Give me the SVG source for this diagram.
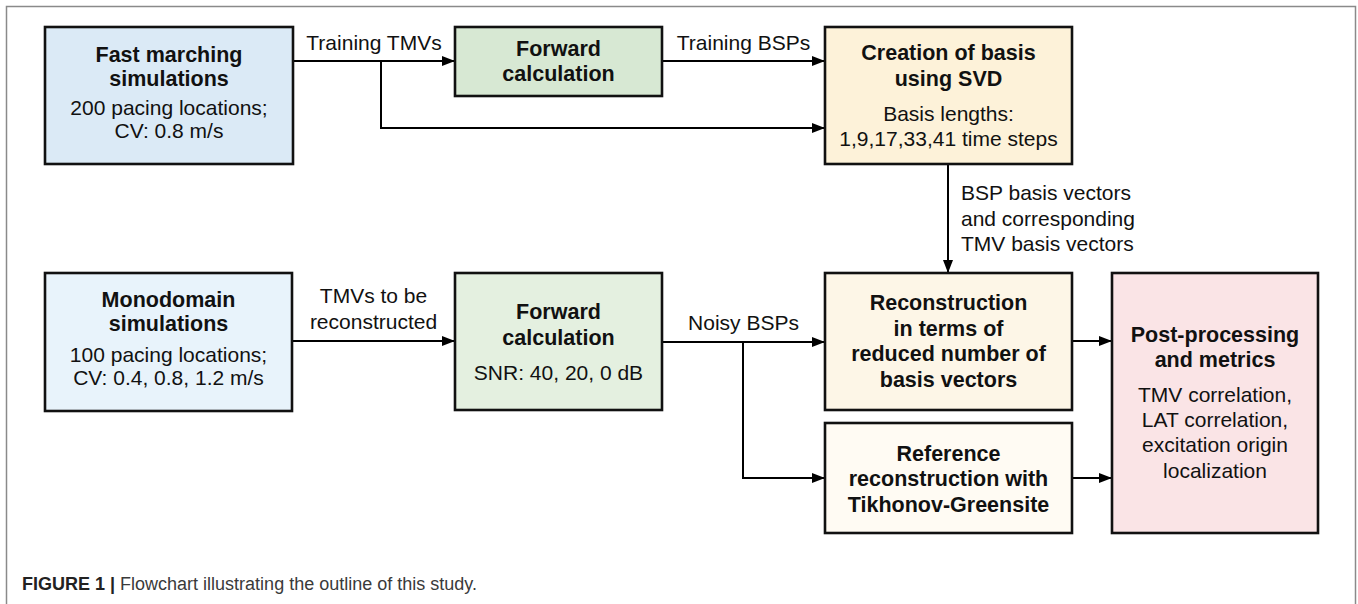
<svg xmlns="http://www.w3.org/2000/svg" width="1358" height="604" viewBox="0 0 1358 604">
<defs>
<marker id="ah" viewBox="0 0 13 10" refX="13" refY="5" markerWidth="13" markerHeight="10" markerUnits="userSpaceOnUse" orient="auto">
<path d="M0,0 L13,5 L0,10 Z" fill="#000"/>
</marker>
</defs>
<style>
.box{stroke:#111;stroke-width:2.6}
.t{font-family:"Liberation Sans",Arial,sans-serif;font-size:21px;fill:#111}
.b{font-family:"Liberation Sans",Arial,sans-serif;font-size:21.5px;font-weight:bold;fill:#111}
.c{text-anchor:middle}
.ln{fill:none;stroke:#000;stroke-width:2}
.cap{font-family:"Liberation Sans",Arial,sans-serif;font-size:18px;fill:#3a3a3a}
</style>
<rect width="1358" height="604" fill="#fff"/>
<path d="M6.5,604 L6.5,6.5 L1355.5,6.5 L1355.5,604" fill="none" stroke="#8a8a8a" stroke-width="1.5"/>

<g id="connectors">
<path class="ln" d="M293,61 L455,61" marker-end="url(#ah)"/>
<path class="ln" d="M381,61 L381,128 L825,128" marker-end="url(#ah)"/>
<path class="ln" d="M662,61 L825,61" marker-end="url(#ah)"/>
<path class="ln" d="M948,164 L948,273" marker-end="url(#ah)"/>
<path class="ln" d="M292,341 L455,341" marker-end="url(#ah)"/>
<path class="ln" d="M662,342 L825,342" marker-end="url(#ah)"/>
<path class="ln" d="M743,342 L743,478 L825,478" marker-end="url(#ah)"/>
<path class="ln" d="M1072,341 L1112,341" marker-end="url(#ah)"/>
<path class="ln" d="M1072,478 L1112,478" marker-end="url(#ah)"/>
<text class="t c" x="374" y="50">Training TMVs</text>
<text class="t c" x="743.5" y="50">Training BSPs</text>
<text class="t" x="961" y="200">BSP basis vectors</text>
<text class="t" x="961" y="225.5">and corresponding</text>
<text class="t" x="961" y="251">TMV basis vectors</text>
<text class="t c" x="373.5" y="303">TMVs to be</text>
<text class="t c" x="373.5" y="329">reconstructed</text>
<text class="t c" x="743.5" y="330">Noisy BSPs</text>
</g>

<g id="fast-marching">
<rect class="box" x="45" y="27" width="248" height="137" fill="#dbeaf6"/>
<text class="b c" x="169" y="62">Fast marching</text>
<text class="b c" x="169" y="86">simulations</text>
<text class="t c" x="169" y="115">200 pacing locations;</text>
<text class="t c" x="169" y="138">CV: 0.8 m/s</text>
</g>

<g id="forward-top">
<rect class="box" x="455" y="27" width="207" height="69" fill="#d7e8d3"/>
<text class="b c" x="558.5" y="56">Forward</text>
<text class="b c" x="558.5" y="81">calculation</text>
</g>

<g id="creation-basis">
<rect class="box" x="825" y="27" width="247" height="137" fill="#fdf2d9"/>
<text class="b c" x="948.5" y="60">Creation of basis</text>
<text class="b c" x="948.5" y="85.5">using SVD</text>
<text class="t c" x="948.5" y="120.5">Basis lengths:</text>
<text class="t c" x="948.5" y="145.5">1,9,17,33,41 time steps</text>
</g>

<g id="monodomain">
<rect class="box" x="45" y="273" width="247" height="138" fill="#e8f3fb"/>
<text class="b c" x="168.5" y="307">Monodomain</text>
<text class="b c" x="168.5" y="331">simulations</text>
<text class="t c" x="168.5" y="362">100 pacing locations;</text>
<text class="t c" x="168.5" y="385">CV: 0.4, 0.8, 1.2 m/s</text>
</g>

<g id="forward-bottom">
<rect class="box" x="455" y="273" width="207" height="137" fill="#e4f0e0"/>
<text class="b c" x="558.5" y="319">Forward</text>
<text class="b c" x="558.5" y="345">calculation</text>
<text class="t c" x="558.5" y="380">SNR: 40, 20, 0 dB</text>
</g>

<g id="reconstruction">
<rect class="box" x="825" y="273" width="247" height="137" fill="#fdf6e7"/>
<text class="b c" x="948.5" y="310">Reconstruction</text>
<text class="b c" x="948.5" y="335.5">in terms of</text>
<text class="b c" x="948.5" y="361">reduced number of</text>
<text class="b c" x="948.5" y="386.5">basis vectors</text>
</g>

<g id="reference">
<rect class="box" x="825" y="423" width="247" height="110" fill="#fffbf3"/>
<text class="b c" x="948.5" y="460.5">Reference</text>
<text class="b c" x="948.5" y="486">reconstruction with</text>
<text class="b c" x="948.5" y="511.5">Tikhonov-Greensite</text>
</g>

<g id="post-processing">
<rect class="box" x="1112" y="273" width="206" height="260" fill="#fae4e6"/>
<text class="b c" x="1215" y="341.5">Post-processing</text>
<text class="b c" x="1215" y="367">and metrics</text>
<text class="t c" x="1215" y="401.5">TMV correlation,</text>
<text class="t c" x="1215" y="426.5">LAT correlation,</text>
<text class="t c" x="1215" y="452">excitation origin</text>
<text class="t c" x="1215" y="477.5">localization</text>
</g>

<text class="cap" x="22" y="590"><tspan font-weight="bold" fill="#222">FIGURE 1</tspan> <tspan font-weight="bold" fill="#222">|</tspan> Flowchart illustrating the outline of this study.</text>
</svg>
